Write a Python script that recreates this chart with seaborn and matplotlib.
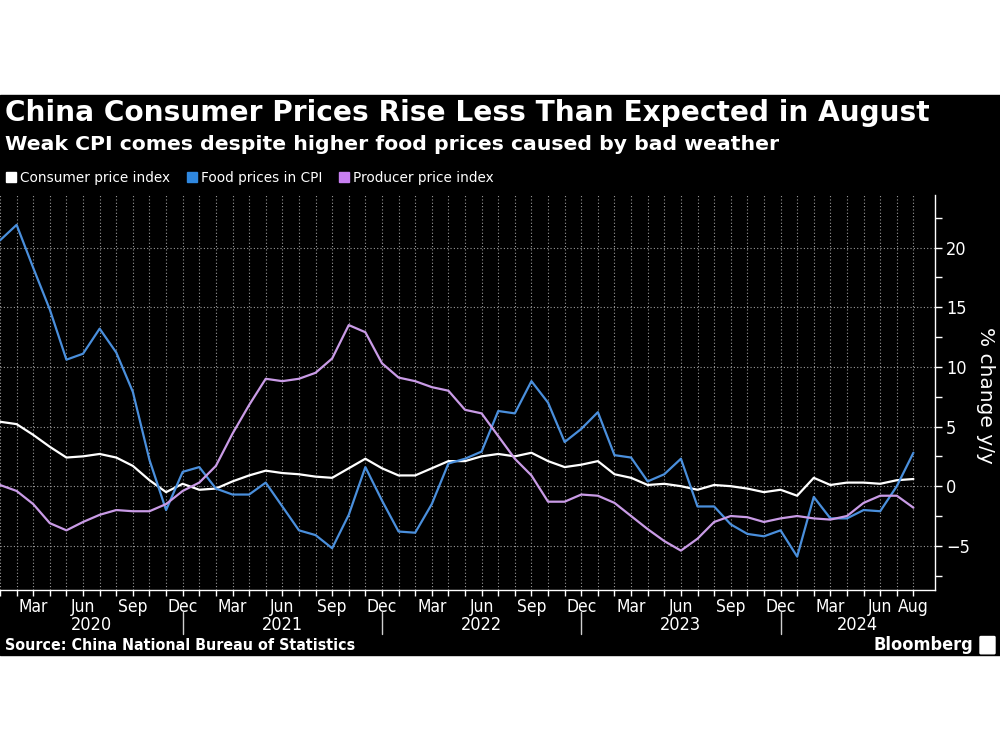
import numpy as np
import pandas as pd
import seaborn as sns
import matplotlib.pyplot as plt
import matplotlib.transforms as mtransforms
from matplotlib.patches import Patch, Rectangle, FancyBboxPatch

# monthly data, Jan 2020 .. Aug 2024 (% change y/y)
months = pd.date_range("2020-01-01", "2024-08-01", freq="MS")

cpi = [5.4, 5.2, 4.3, 3.3, 2.4, 2.5, 2.7, 2.4, 1.7, 0.5, -0.5, 0.2,
       -0.3, -0.2, 0.4, 0.9, 1.3, 1.1, 1.0, 0.8, 0.7, 1.5, 2.3, 1.5,
       0.9, 0.9, 1.5, 2.1, 2.1, 2.5, 2.7, 2.5, 2.8, 2.1, 1.6, 1.8,
       2.1, 1.0, 0.7, 0.1, 0.2, 0.0, -0.3, 0.1, 0.0, -0.2, -0.5, -0.3,
       -0.8, 0.7, 0.1, 0.3, 0.3, 0.2, 0.5, 0.6]
food = [20.6, 21.9, 18.3, 14.8, 10.6, 11.1, 13.2, 11.2, 7.9, 2.2, -2.0, 1.2,
        1.6, -0.2, -0.7, -0.7, 0.3, -1.7, -3.7, -4.1, -5.2, -2.4, 1.6, -1.2,
        -3.8, -3.9, -1.5, 1.9, 2.3, 2.9, 6.3, 6.1, 8.8, 7.0, 3.7, 4.8,
        6.2, 2.6, 2.4, 0.4, 1.0, 2.3, -1.7, -1.7, -3.2, -4.0, -4.2, -3.7,
        -5.9, -0.9, -2.7, -2.7, -2.0, -2.1, 0.0, 2.8]
ppi = [0.1, -0.4, -1.5, -3.1, -3.7, -3.0, -2.4, -2.0, -2.1, -2.1, -1.5, -0.4,
       0.3, 1.7, 4.4, 6.8, 9.0, 8.8, 9.0, 9.5, 10.7, 13.5, 12.9, 10.3,
       9.1, 8.8, 8.3, 8.0, 6.4, 6.1, 4.2, 2.3, 0.9, -1.3, -1.3, -0.7,
       -0.8, -1.4, -2.5, -3.6, -4.6, -5.4, -4.4, -3.0, -2.5, -2.6, -3.0, -2.7,
       -2.5, -2.7, -2.8, -2.5, -1.4, -0.8, -0.8, -1.8]

series_names = ["Consumer price index", "Food prices in CPI", "Producer price index"]
line_colors = ["#ffffff", "#4a8fdc", "#c99be6"]
legend_colors = ["#ffffff", "#2f88e0", "#c77ff0"]
years = [2020, 2021, 2022, 2023, 2024]

idx = np.arange(len(months))
df = pd.DataFrame({"idx": idx, series_names[0]: cpi,
                   series_names[1]: food, series_names[2]: ppi})
df = df.melt(id_vars="idx", var_name="series", value_name="value")

sns.set_theme(style="dark")
plt.rcParams["font.family"] = ["DejaVu Sans"]
narrow = dict(family="DejaVu Sans", stretch="condensed")

fig = plt.figure(figsize=(10, 7.5), dpi=100)
fig.patch.set_facecolor("white")
fig.patches.append(Rectangle((0, 1 - 655 / 750), 1, 560 / 750, transform=fig.transFigure,
                             color="black", zorder=-10))

ax = fig.add_axes([0, 1 - 590 / 750, 0.935, 395 / 750])
ax.set_facecolor("black")

sns.lineplot(data=df, x="idx", y="value", hue="series", hue_order=series_names,
             palette=dict(zip(series_names, line_colors)), legend=False, lw=1.6, ax=ax)

ax.set_xlim(0, 56.3)
ax.set_ylim(-8.7, 24.4)
ax.set_xlabel("")
ax.set_ylabel("")

# y axis on the right
ax.yaxis.tick_right()
ax.set_yticks([-5, 0, 5, 10, 15, 20])
ax.set_yticks(np.arange(-7.5, 24, 5), minor=True)
ax.tick_params(axis="y", which="both", colors="white", labelsize=13, length=5, width=1,
               direction="out", right=True, left=False, pad=3)
for lbl in ax.get_yticklabels():
    lbl.set_fontstretch("condensed")

# x axis: a tick every month, labels quarterly
ax.set_xticks(idx)
xlabels = []
for i, m in enumerate(months):
    if m.month in (3, 6, 9, 12) or i == len(months) - 1:
        xlabels.append(m.strftime("%b"))
    else:
        xlabels.append("")
ax.set_xticklabels(xlabels)
ax.tick_params(axis="x", colors="white", labelsize=12.5, length=4, width=1, pad=2, bottom=True)
for lbl in ax.get_xticklabels():
    lbl.set_fontstretch("condensed")

ax.grid(axis="x", which="major", color="#9a9a9a", ls=(0, (1, 2)), lw=0.8)
ax.grid(axis="y", which="major", color="#9a9a9a", ls=(0, (1, 2)), lw=0.8)
ax.grid(axis="y", which="minor", visible=False)

for s in ["left", "top"]:
    ax.spines[s].set_visible(False)
for s in ["right", "bottom"]:
    ax.spines[s].set_color("white")
    ax.spines[s].set_linewidth(1)

# year labels and separators
trans = mtransforms.blended_transform_factory(ax.transData, ax.transAxes)
bounds = [0, 11, 23, 35, 47, 56.3]
for k, yr in enumerate(years):
    ax.text((bounds[k] + bounds[k + 1]) / 2, -0.089, str(yr), transform=trans,
            ha="center", va="center", color="white", fontsize=13, **narrow)
for b in bounds[1:-1]:
    ax.plot([b, b], [-0.056, -0.111], transform=trans, color="#cfcfcf", lw=1, clip_on=False)

# titles
fig.text(0.005, 1 - 113 / 750, "China Consumer Prices Rise Less Than Expected in August",
         color="white", fontsize=20.2, weight="bold", va="center")
fig.text(0.005, 1 - 145 / 750, "Weak CPI comes despite higher food prices caused by bad weather",
         color="white", fontsize=14.7, weight="bold", va="center")

handles = [Patch(color=c, label=n) for c, n in zip(legend_colors, series_names)]
fig.legend(handles=handles, loc="center left", bbox_to_anchor=(0.006, 1 - 178 / 750), ncol=3,
           frameon=False, fontsize=9.8, labelcolor="white", handlelength=0.75, handleheight=0.75,
           handletextpad=0.3, columnspacing=1.2, borderaxespad=0, borderpad=0)

fig.text(0.986, 1 - 395 / 750, "% change y/y", rotation=270, color="white", fontsize=14.5,
         ha="center", va="center")

fig.text(0.005, 1 - 646 / 750, "Source: China National Bureau of Statistics", color="white",
         fontsize=11.4, weight="bold", va="center", **narrow)
fig.text(0.973, 1 - 645 / 750, "Bloomberg", color="white", fontsize=13, weight="bold",
         ha="right", va="center", **narrow)
fig.patches.append(FancyBboxPatch((0.981, 1 - 653 / 750), 0.013, 0.021, boxstyle="round,pad=0.001",
                                  transform=fig.transFigure, color="white"))

plt.savefig("out.png", dpi=100)
